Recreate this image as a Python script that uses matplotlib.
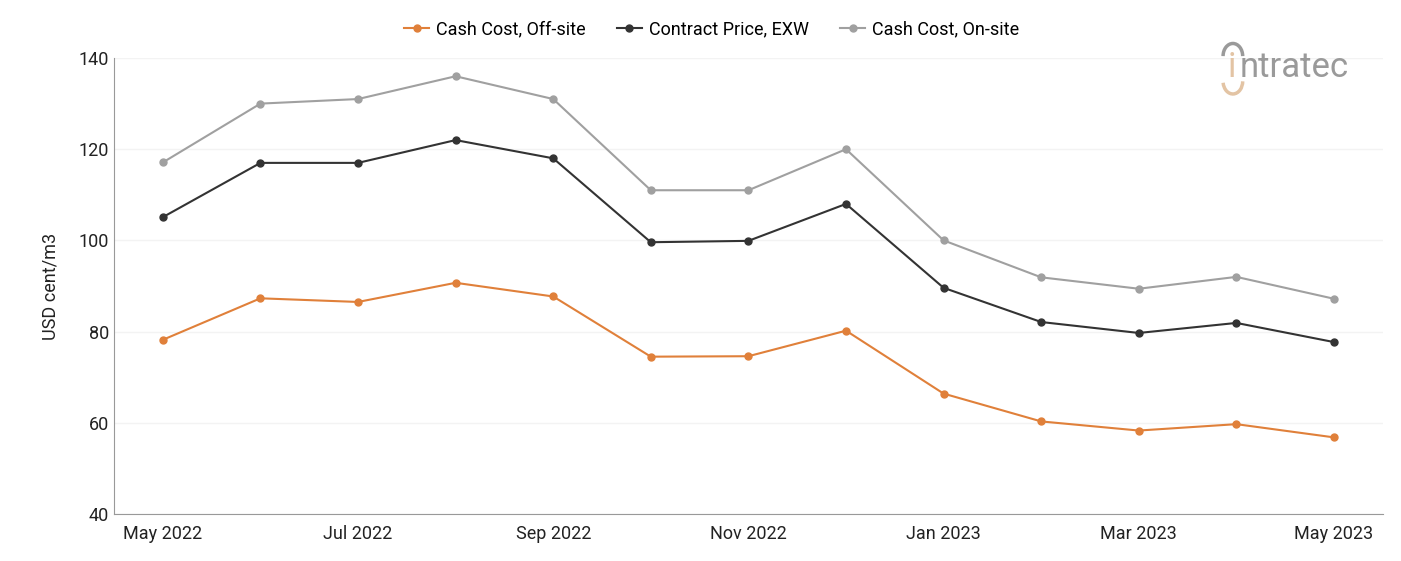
import matplotlib.pyplot as plt
from matplotlib.patches import Arc

plt.rcParams['font.family'] = ['Roboto', 'DejaVu Sans']

months = ['May 2022', 'Jun 2022', 'Jul 2022', 'Aug 2022', 'Sep 2022', 'Oct 2022',
          'Nov 2022', 'Dec 2022', 'Jan 2023', 'Feb 2023', 'Mar 2023', 'Apr 2023', 'May 2023']
off_site = [78.2, 87.3, 86.5, 90.7, 87.7, 74.5, 74.6, 80.2, 66.4, 60.3, 58.3, 59.7, 56.8]
contract = [105.1, 117.0, 117.0, 122.0, 118.0, 99.6, 99.9, 108.0, 89.6, 82.1, 79.7, 81.9, 77.7]
on_site = [117.1, 130.0, 131.0, 136.0, 131.0, 111.0, 111.0, 120.0, 100.0, 91.9, 89.4, 92.0, 87.2]

x = list(range(len(months)))

fig = plt.figure(figsize=(14.01, 5.61), dpi=100)
ax = fig.add_axes([0.0814, 0.0838, 0.9056, 0.8128])

ax.plot(x, off_site, color='#E0803A', marker='o', markersize=5, linewidth=1.5, label='Cash Cost, Off-site')
ax.plot(x, contract, color='#333333', marker='o', markersize=5, linewidth=1.5, label='Contract Price, EXW')
ax.plot(x, on_site, color='#A0A0A0', marker='o', markersize=5, linewidth=1.5, label='Cash Cost, On-site')

ax.set_xlim(-0.5, len(months) - 0.5)
ax.set_ylim(40, 140)
ax.set_yticks(range(40, 141, 20))
ax.set_xticks(x[::2])
ax.set_xticklabels(months[::2])
ax.tick_params(axis='both', labelsize=13, length=0, colors='#222222')
ax.tick_params(axis='x', pad=8)
ax.grid(axis='y', color='#F3F3F3', linewidth=1)
ax.set_axisbelow(True)
for s in ['top', 'right']:
    ax.spines[s].set_visible(False)
for s in ['left', 'bottom']:
    ax.spines[s].set_color('#999999')
ax.set_ylabel('USD cent/m3', fontsize=13, color='#222222', labelpad=14)

fig.legend(loc='upper center', bbox_to_anchor=(0.508, 0.992), ncol=3, frameon=False,
           fontsize=13, handlelength=1.4, columnspacing=1.7, handletextpad=0.4)

# logo
fig.text(0.8845, 0.88, 'ntratec', fontsize=25, color='#9A9A9A', ha='left', va='center')
fig.text(0.8765, 0.88, 'i', fontsize=25, color='#E3C4A4', ha='left', va='center')
fig.patches.append(Arc((0.880, 0.90), 0.014, 0.045, theta1=0, theta2=180,
                       transform=fig.transFigure, color='#9A9A9A', linewidth=2.5))
fig.patches.append(Arc((0.880, 0.855), 0.014, 0.045, theta1=200, theta2=360,
                       transform=fig.transFigure, color='#E3C4A4', linewidth=2.5))

fig.savefig('out.png', dpi=100)
